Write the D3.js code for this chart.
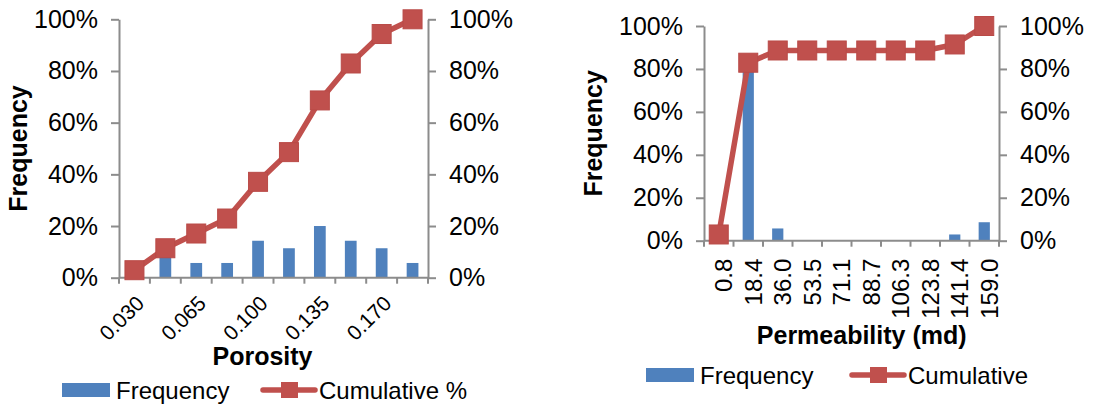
<!DOCTYPE html>
<html>
<head>
<meta charset="utf-8">
<script src="https://cdn.jsdelivr.net/npm/d3@7"></script>
<style>
  body { margin: 0; background: #fff; }
  svg text { font-family: "Liberation Sans", Arial, sans-serif; fill: #000; }
</style>
</head>
<body>
<svg id="chart" width="1115" height="408"></svg>
<script>
// ---- data
const porosityCats = ["0.030", "0.048", "0.065", "0.083", "0.100", "0.118", "0.135", "0.153", "0.170", "0.188"];
const porosityFreq = [0.029, 0.086, 0.057, 0.057, 0.143, 0.114, 0.200, 0.143, 0.114, 0.057];
const porosityCum  = [0.029, 0.114, 0.171, 0.229, 0.371, 0.486, 0.686, 0.829, 0.943, 1.000];

const permCats = ["0.8", "18.4", "36.0", "53.5", "71.1", "88.7", "106.3", "123.8", "141.4", "159.0"];
const permFreq = [0.029, 0.800, 0.057, 0, 0, 0, 0, 0, 0.029, 0.086];
const permCum  = [0.029, 0.829, 0.886, 0.886, 0.886, 0.886, 0.886, 0.886, 0.914, 1.000];

const pctTicks = [0, 0.2, 0.4, 0.6, 0.8, 1.0];

const BLUE = "#4F81BD", RED = "#C0504D", AXIS = "#8C8C8C";

const svg = d3.select("#chart");

function drawChart(c) {
  const g = svg.append("g");

  const x = d3.scaleBand().domain(c.cats).range([c.left, c.right]).padding(0);
  const y = d3.scaleLinear().domain([0, 1]).range([c.bottom, c.top]);
  const bw = x.bandwidth();

  // bars
  g.selectAll("rect.bar")
    .data(c.cats.map((k, i) => ({k: k, v: c.freq[i]})))
    .join("rect")
    .attr("class", "bar")
    .attr("x", d => x(d.k) + bw * 0.31)
    .attr("width", bw * 0.38)
    .attr("y", d => y(d.v))
    .attr("height", d => y(0) - y(d.v))
    .attr("fill", BLUE);

  // y axes left and right
  const fmt = d3.format(".0%");
  const yl = g.append("g").attr("transform", `translate(${c.left},0)`)
    .call(d3.axisLeft(y).tickValues(pctTicks).tickFormat(fmt).tickSize(8).tickSizeOuter(0).tickPadding(13));
  const yr = g.append("g").attr("transform", `translate(${c.right},0)`)
    .call(d3.axisRight(y).tickValues(pctTicks).tickFormat(fmt).tickSize(8).tickSizeOuter(0).tickPadding(13));
  [yl, yr].forEach(a => {
    a.selectAll("path, line").attr("stroke", AXIS).attr("stroke-width", 2);
    a.selectAll("text").style("font-size", "25px").attr("fill", "#000");
  });

  // x axis line + ticks at the category borders
  g.append("line")
    .attr("x1", c.left).attr("x2", c.right)
    .attr("y1", y(0)).attr("y2", y(0))
    .attr("stroke", AXIS).attr("stroke-width", 2);
  const borders = c.cats.map(k => x(k)).concat([x.range()[1]]);
  g.selectAll("line.xt")
    .data(borders)
    .join("line")
    .attr("class", "xt")
    .attr("x1", d => d).attr("x2", d => d)
    .attr("y1", y(0)).attr("y2", y(0) + 6)
    .attr("stroke", AXIS).attr("stroke-width", 2);

  // x tick labels
  g.selectAll("text.xl")
    .data(c.cats.filter((k, i) => i % c.labelStep === 0))
    .join("text")
    .attr("class", "xl")
    .attr("transform", d => `translate(${x(d) + bw / 2 + c.labDx},${y(0) + c.labDy}) rotate(${c.angle})`)
    .attr("text-anchor", "end")
    .attr("dy", c.labDyEm)
    .style("font-size", c.labSize)
    .text(d => d);

  // cumulative line and markers
  const pts = c.cats.map((k, i) => [x(k) + bw / 2, y(c.cum[i])]);
  g.append("path")
    .attr("d", d3.line()(pts))
    .attr("fill", "none")
    .attr("stroke", RED)
    .attr("stroke-width", 5.5)
    .attr("stroke-linejoin", "round");
  g.selectAll("rect.mk")
    .data(pts)
    .join("rect")
    .attr("class", "mk")
    .attr("x", d => d[0] - 9.5).attr("y", d => d[1] - 9.5)
    .attr("width", 19).attr("height", 19)
    .attr("fill", RED)
    .attr("stroke", "#B94A47").attr("stroke-width", 1);

  // axis titles
  g.append("text")
    .attr("transform", `translate(${c.yTitleX},${(c.top + c.bottom) / 2}) rotate(-90)`)
    .attr("text-anchor", "middle")
    .style("font-size", "25px").style("font-weight", "bold")
    .text("Frequency");
  g.append("text")
    .attr("x", c.xTitleX).attr("y", c.xTitleY)
    .attr("text-anchor", "middle")
    .style("font-size", "25px").style("font-weight", "bold")
    .text(c.xTitle);

  // legend
  const lg = g.append("g").attr("transform", `translate(${c.legX},${c.legY})`);
  lg.append("rect").attr("x", 0).attr("y", -7).attr("width", 48).attr("height", 14).attr("fill", BLUE);
  lg.append("text").attr("x", 54).attr("y", 8.5).style("font-size", "24px").text("Frequency");
  lg.append("line").attr("x1", c.legGap).attr("x2", c.legGap + 52).attr("y1", 0).attr("y2", 0)
    .attr("stroke", RED).attr("stroke-width", 5.5).attr("stroke-linecap", "round");
  lg.append("rect").attr("x", c.legGap + 18).attr("y", -8).attr("width", 17).attr("height", 16).attr("fill", RED);
  lg.append("text").attr("x", c.legGap + 56).attr("y", 8.5).style("font-size", "24px").text(c.cumName);
}

drawChart({
  cats: porosityCats, freq: porosityFreq, cum: porosityCum,
  left: 119, right: 428, top: 19.3, bottom: 277.7,
  labelStep: 2, angle: -45, labDx: 11, labDy: 27, labDyEm: "0em", labSize: "21px",
  yTitleX: 27, xTitle: "Porosity", xTitleX: 262.5, xTitleY: 365,
  legX: 62, legY: 390, legGap: 201, cumName: "Cumulative %"
});

drawChart({
  cats: permCats, freq: permFreq, cum: permCum,
  left: 704, right: 999, top: 26, bottom: 240.7,
  labelStep: 1, angle: -90, labDx: 5, labDy: 18, labDyEm: "0.35em", labSize: "24px",
  yTitleX: 602, xTitle: "Permeability (md)", xTitleX: 861.7, xTitleY: 344,
  legX: 646, legY: 375, legGap: 206, cumName: "Cumulative"
});
</script>
</body>
</html>
